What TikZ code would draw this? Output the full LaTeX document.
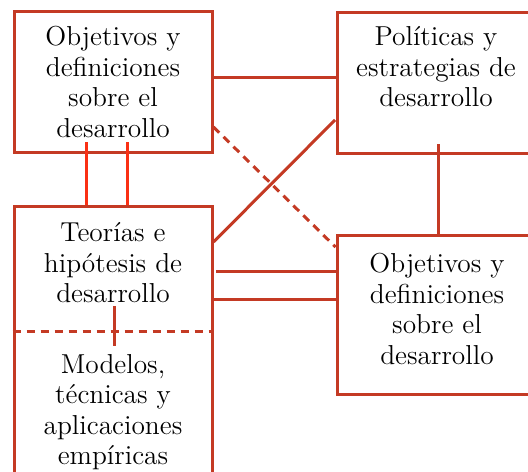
\documentclass[tikz,border=0pt]{standalone}
\usepackage{xcolor}
\definecolor{boxred}{RGB}{196,58,36}
\definecolor{linkred}{RGB}{250,48,20}
\begin{document}
\begin{tikzpicture}[
        x=0.5pt, y=-0.5pt,
        box/.style={rectangle, draw=boxred, line width=1.5pt, minimum width=99pt, inner sep=0pt},
        txt/.style={align=center, inner sep=0pt, font=\fontsize{13.7}{15.25}\selectfont},
        link/.style={draw=boxred, line width=1.5pt},
        brightlink/.style={draw=linkred, line width=1.5pt},
        dashlink/.style={draw=boxred, line width=1.5pt, dash pattern=on 4pt off 3pt}
    ]
        \useasboundingbox (0,0) rectangle (528,471);
        \clip (0,0) rectangle (528,471);
        % boxes
        \node[box, minimum height=70.5pt] (obj) at (113,81.5) {};
        \node[box, minimum width=100pt, minimum height=70.5pt] (pol) at (437,82.5) {};
        \node[box, minimum width=100pt, minimum height=79.5pt] (def) at (437,314.5) {};
        \node[box, minimum height=137pt] (teo) at (113,343) {};
        % texts
        \node[txt, anchor=north] (objtxt) at (113,26) {Objetivos y\\definiciones\\sobre el\\desarrollo};
        \node[txt, anchor=north] (poltxt) at (436,26) {Políticas y\\estrategias de\\desarrollo};
        \node[txt, anchor=north] (deftxt) at (437,253) {Objetivos y\\definiciones\\sobre el\\desarrollo};
        \node[txt, anchor=north] (teotxt) at (113,222) {Teorías e\\hipótesis de\\desarrollo};
        \node[txt, anchor=north] (modtxt) at (113,354) {Modelos,\\técnicas y\\aplicaciones\\empíricas};
        \draw[dashlink] (teo.west |- 0,331) -- (teo.east |- 0,331);
        % connectors
        \draw[link] (obj.east |- 0,77) -- (pol.west |- 0,77);
        \draw[brightlink] (86,142) -- (teo.north -| 86,0);
        \draw[brightlink] (127,142) -- (teo.north -| 127,0);
        \draw[dashlink] (obj.east |- 0,127) -- (def.west |- 0,247);
        \draw[link] (teo.east |- 0,242) -- (335,120);
        \draw[link] (438,144) -- (def.north -| 438,0);
        \draw[link] (216,271) -- (def.west |- 0,271);
        \draw[link] (teo.east |- 0,299) -- (def.west |- 0,299);
        \draw[link] (114,306) -- (114,346);
    \end{tikzpicture}
\end{document}
